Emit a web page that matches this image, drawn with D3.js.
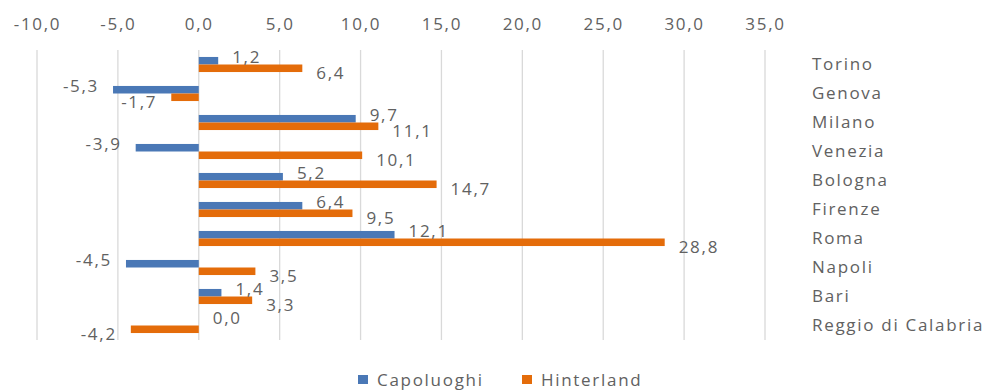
<!DOCTYPE html>
<html>
<head>
<meta charset="utf-8">
<script src="https://cdn.jsdelivr.net/npm/d3@7"></script>
<style>
body { margin: 0; background: #fff; }
text { font-family: "Open Sans", sans-serif; fill: #616161; }
</style>
</head>
<body>
<svg id="main" width="992" height="391"></svg>
<script>
var cities = ["Torino", "Genova", "Milano", "Venezia", "Bologna", "Firenze", "Roma", "Napoli", "Bari", "Reggio di Calabria"];
var capoluoghi = [1.2, -5.3, 9.7, -3.9, 5.2, 6.4, 12.1, -4.5, 1.4, 0.0];
var hinterland = [6.4, -1.7, 11.1, 10.1, 14.7, 9.5, 28.8, 3.5, 3.3, -4.2];
var ticks = [-10, -5, 0, 5, 10, 15, 20, 25, 30, 35];
var seriesNames = ["Capoluoghi", "Hinterland"];
var colors = ["#4A78B6", "#E46C0A"];

var fmt = function (v) { return v.toFixed(1).replace(".", ","); };
var svg = d3.select("#main");
var fs = 17, ls = "1.7px";

var x = d3.scaleLinear().domain([-10, 35]).range([37, 765]);
var y = d3.scaleBand().domain(cities).range([50, 340]).paddingInner(0.48).paddingOuter(0.24);
var sub = d3.scaleBand().domain([0, 1]).range([0, y.bandwidth()]);

// grid lines
svg.append("g").selectAll("line").data(ticks).enter().append("line")
	.attr("x1", function (d) { return x(d); }).attr("x2", function (d) { return x(d); })
	.attr("y1", 50).attr("y2", 340)
	.attr("stroke", "#d9d9d9").attr("stroke-width", 1.3);

// top axis labels
var axis = svg.append("g").attr("transform", "translate(0,33)")
	.call(d3.axisTop(x).tickValues(ticks).tickFormat(fmt).tickSize(0));
axis.select(".domain").remove();
axis.selectAll("text").attr("font-size", fs).attr("letter-spacing", ls).attr("fill", "#616161")
	.style("font-family", "Open Sans");

var data = cities.map(function (c, i) { return [capoluoghi[i], hinterland[i]]; });
var groups = svg.append("g").selectAll("g").data(data).enter().append("g")
	.attr("transform", function (d, i) { return "translate(0," + y(cities[i]) + ")"; });

groups.selectAll("rect").data(function (d) { return d; }).enter().append("rect")
	.attr("x", function (d) { return x(Math.min(0, d)); })
	.attr("width", function (d) { return Math.abs(x(d) - x(0)); })
	.attr("y", function (d, j) { return sub(j); })
	.attr("height", sub.bandwidth())
	.attr("fill", function (d, j) { return colors[j]; });

groups.selectAll("text").data(function (d) { return d; }).enter().append("text")
	.attr("x", function (d) { return d < 0 ? x(d) - 14 : x(d) + 14; })
	.attr("y", function (d, j) { return sub(j) + sub.bandwidth() / 2 + (j === 0 ? -4 : 5); })
	.attr("dy", "0.35em")
	.attr("text-anchor", function (d) { return d < 0 ? "end" : "start"; })
	.attr("font-size", fs).attr("letter-spacing", ls)
	.text(fmt);

// category labels on the right
svg.append("g").selectAll("text").data(cities).enter().append("text")
	.attr("x", 812)
	.attr("y", function (d) { return y(d) + y.bandwidth() / 2; })
	.attr("dy", "0.35em")
	.attr("font-size", fs).attr("letter-spacing", ls)
	.text(function (d) { return d; });

// legend
var legend = svg.append("g").attr("transform", "translate(358,380)");
var lx = [0, 164];
seriesNames.forEach(function (n, i) {
	legend.append("rect").attr("x", lx[i]).attr("y", -5).attr("width", 10).attr("height", 9).attr("fill", colors[i]);
	legend.append("text").attr("x", lx[i] + 19).attr("y", 0).attr("dy", "0.35em")
		.attr("font-size", fs).attr("letter-spacing", ls).text(n);
});
</script>
</body>
</html>
